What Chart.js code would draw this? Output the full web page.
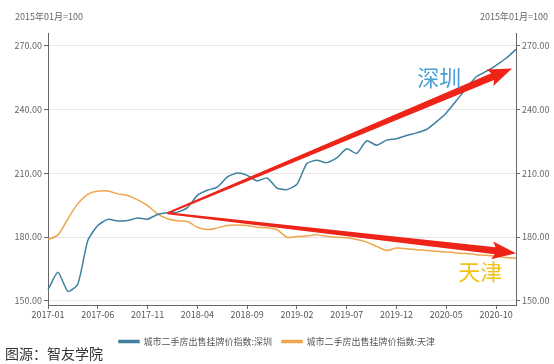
<!DOCTYPE html>
<html>
<head>
<meta charset="utf-8">
<script src="https://cdn.jsdelivr.net/npm/chart.js@4.4.1/dist/chart.umd.min.js"></script>
<style>
  html, body { margin: 0; padding: 0; background: #fff; }
  #wrap { position: relative; width: 554px; height: 364px; }
  #source { position: absolute; left: 5px; top: 343px; font: 14px "Noto Sans CJK SC", sans-serif; color: #333; }
</style>
</head>
<body>
<div id="wrap">
  <canvas id="myChart" width="554" height="364"></canvas>
  <div id="source">图源：智友学院</div>
</div>
<script>
const months = [
    '2017-01','2017-02','2017-03','2017-04','2017-05','2017-06','2017-07','2017-08','2017-09','2017-10','2017-11','2017-12',
    '2018-01','2018-02','2018-03','2018-04','2018-05','2018-06','2018-07','2018-08','2018-09','2018-10','2018-11','2018-12',
    '2019-01','2019-02','2019-03','2019-04','2019-05','2019-06','2019-07','2019-08','2019-09','2019-10','2019-11','2019-12',
    '2020-01','2020-02','2020-03','2020-04','2020-05','2020-06','2020-07','2020-08','2020-09','2020-10','2020-11','2020-12',
];
const shownMonths = ['2017-01','2017-06','2017-11','2018-04','2018-09','2019-02','2019-07','2019-12','2020-05','2020-10'];

const shenzhen = [
    155.2, 163.4, 154.4, 157.9, 178.3, 185.4, 188.3, 187.5, 187.8, 188.9, 188.4, 190.6,
    191.4, 191.7, 193.8, 199.6, 202.0, 203.5, 208.2, 210.1, 209.0, 206.4, 207.8, 203.0,
    202.3, 204.8, 214.6, 216.1, 215.0, 217.2, 221.5, 219.3, 225.3, 223.2, 225.6, 226.2,
    227.8, 229.0, 230.6, 234.2, 238.4, 244.1, 249.9, 255.4, 257.9, 260.8, 264.1, 268.3,
];
const tianjin = [
    178.8, 181.0, 188.6, 195.7, 200.1, 201.5, 201.6, 200.3, 199.5, 197.5, 194.8, 190.9,
    188.6, 187.6, 187.3, 184.6, 183.5, 184.3, 185.4, 185.7, 185.4, 184.6, 184.3, 183.4,
    179.9, 180.2, 180.5, 181.0, 180.4, 179.9, 179.6, 178.8, 177.6, 175.6, 173.7, 174.8,
    174.5, 174.0, 173.7, 173.3, 172.9, 172.5, 172.2, 171.7, 171.4, 170.9, 170.3, 170.0,
];
const seriesNames = ['城市二手房出售挂牌价指数:深圳', '城市二手房出售挂牌价指数:天津'];
const yTicks = [150, 180, 210, 240, 270];
const axisTitle = '2015年01月=100';

// hand-drawn red arrows and city labels, in data units (month index, index value)
const arrowStart = [12, 191.2];
const arrowEnds = [[46.6, 259.3], [47, 172.4]];
const cityLabels = ['深圳', '天津'];
const cityLabelPos = [[39.3, 255.2], [43.4, 163.8]];
const cityLabelColors = ['#4a9fd6', '#f2c21c'];

const FONT = '"Noto Sans CJK SC", "Noto Sans", sans-serif';

function drawArrow(ctx, x0, y0, x1, y1) {
    const ang = Math.atan2(y1 - y0, x1 - x0);
    const len = Math.hypot(x1 - x0, y1 - y0);
    const head = 21;
    ctx.save();
    ctx.translate(x0, y0);
    ctx.rotate(ang);
    ctx.beginPath();
    ctx.moveTo(0, -1);
    ctx.lineTo(len - head, -3.6);
    ctx.lineTo(len - head - 3, -9);
    ctx.lineTo(len, 0);
    ctx.lineTo(len - head - 3, 9);
    ctx.lineTo(len - head, 3.6);
    ctx.lineTo(0, 1);
    ctx.closePath();
    ctx.fillStyle = '#ee2418';
    ctx.fill();
    ctx.restore();
}

const overlay = {
    id: 'overlay',
    afterDatasetsDraw(chart) {
        const { ctx, scales } = chart;
        const xs = scales.x, ys = scales.y;
        const sx = xs.getPixelForValue(arrowStart[0]);
        const sy = ys.getPixelForValue(arrowStart[1]);
        arrowEnds.forEach(e => {
            drawArrow(ctx, sx, sy, xs.getPixelForValue(e[0]), ys.getPixelForValue(e[1]));
        });
        ctx.save();
        ctx.font = '22px ' + FONT;
        ctx.textAlign = 'center';
        ctx.textBaseline = 'middle';
        cityLabels.forEach((t, i) => {
            ctx.fillStyle = cityLabelColors[i];
            ctx.fillText(t, xs.getPixelForValue(cityLabelPos[i][0]), ys.getPixelForValue(cityLabelPos[i][1]));
        });
        // unit captions above both value axes
        ctx.font = '9px ' + FONT;
        ctx.fillStyle = '#666';
        ctx.textAlign = 'left';
        ctx.fillText(axisTitle, 15, 17);
        ctx.textAlign = 'right';
        ctx.fillText(axisTitle, 548, 17);
        ctx.restore();
    }
};

const yAxis = (pos) => ({
    position: pos,
    min: 148,
    max: 276,
    afterBuildTicks: (axis) => { axis.ticks = yTicks.map(v => ({ value: v })); },
    afterFit: (axis) => { axis.width = pos === 'left' ? 48 : 38; },
    border: { display: true, color: '#666' },
    grid: {
        drawOnChartArea: pos === 'left',
        color: '#e6e6e6',
        tickColor: '#666',
        tickLength: 4,
    },
    ticks: {
        color: '#666',
        padding: 2,
        font: { size: 9, family: FONT },
        callback: (v) => Number(v).toFixed(2),
    },
});

const ctx = document.getElementById('myChart').getContext('2d');
const myChart = new Chart(ctx, {
    type: 'line',
    data: {
        labels: months,
        datasets: [
            {
                label: seriesNames[0],
                data: shenzhen,
                borderColor: '#3f80a0',
                backgroundColor: '#3f80a0',
                borderWidth: 1.5,
                pointRadius: 0,
                tension: 0.2,
            },
            {
                label: seriesNames[1],
                data: tianjin,
                borderColor: '#eea64c',
                backgroundColor: '#eea64c',
                borderWidth: 1.5,
                pointRadius: 0,
                tension: 0.3,
            },
        ],
    },
    options: {
        responsive: false,
        animation: false,
        layout: { padding: { top: 33, left: 0, right: 0, bottom: 8 } },
        plugins: {
            tooltip: { enabled: false },
            legend: {
                position: 'bottom',
                labels: {
                    boxWidth: 20,
                    boxHeight: 2,
                    padding: 10,
                    color: '#555',
                    font: { size: 9, family: FONT },
                },
            },
        },
        scales: {
            x: {
                offset: false,
                afterFit: (axis) => { axis.height = 22; },
                border: { display: true, color: '#666' },
                grid: {
                    drawOnChartArea: false,
                    tickColor: '#666',
                    tickLength: 4,
                },
                ticks: {
                    autoSkip: false,
                    maxRotation: 0,
                    color: '#555',
                    padding: 0,
                    font: { size: 9, family: FONT },
                    callback: function (v) {
                        const lab = this.getLabelForValue(v);
                        return shownMonths.includes(lab) ? lab : null;
                    },
                },
            },
            y: yAxis('left'),
            y2: yAxis('right'),
        },
    },
    plugins: [overlay],
});
</script>
</body>
</html>
